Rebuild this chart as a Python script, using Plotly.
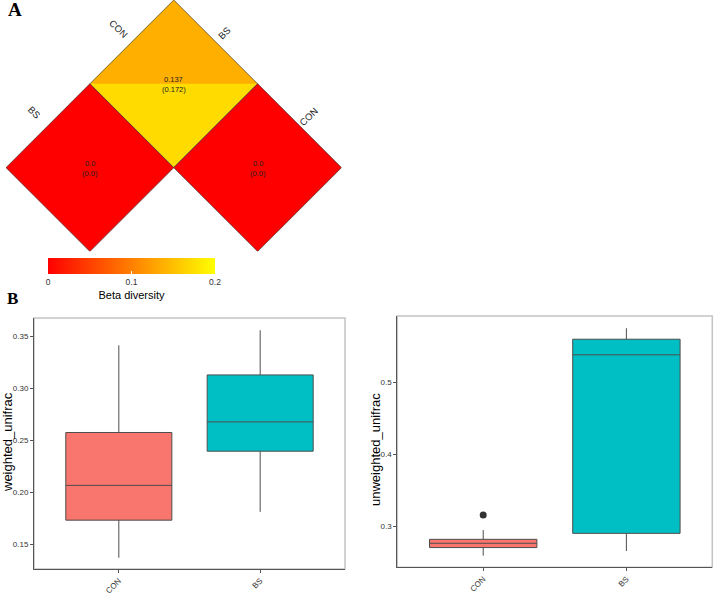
import plotly.graph_objects as go
from plotly.colors import sample_colorscale

# ---------------- data ----------------
row_groups = ["CON", "BS"]
col_groups = ["BS", "CON"]
beta_upper = [[0.137, 0.0], [0.0, None]]   # upper triangle values
beta_lower = [[0.172, 0.0], [0.0, None]]   # lower triangle values (in brackets)
cbar_ticks = [0, 0.1, 0.2]
cbar_ticktext = ["0", "0.1", "0.2"]

box_groups = ["CON", "BS"]
w_lo = [0.1368, 0.181]
w_q1 = [0.173, 0.2394]
w_med = [0.2065, 0.2676]
w_q3 = [0.2574, 0.3128]
w_hi = [0.3413, 0.3558]

u_lo = [0.2588, 0.2653]
u_q1 = [0.270, 0.2898]
u_med = [0.276, 0.538]
u_q3 = [0.2815, 0.5597]
u_hi = [0.2944, 0.575]
u_out_x = ["CON"]
u_out_y = [0.3153]

w_ticks = [0.15, 0.20, 0.25, 0.30, 0.35]
w_ticktext = ["0.15", "0.20", "0.25", "0.30", "0.35"]
u_ticks = [0.3, 0.4, 0.5]
u_ticktext = ["0.3", "0.4", "0.5"]

box_colors = ["#F8766D", "#00BFC4"]
cscale = [[0, "rgb(255,0,0)"], [1, "rgb(255,255,0)"]]
cmax = 0.2

W, H = 718, 599
def px(x):
    return x / W
def py(y):
    return 1 - y / H

FONT = "Liberation Sans"
fig = go.Figure()

# ---------------- heatmap (rotated) ----------------
def col_of(v):
    return sample_colorscale(cscale, [v / cmax])[0]

def fmt(v):
    return "0.0" if v == 0 else f"{v:.3g}"

annotations = []
for r in range(len(row_groups)):
    for c in range(len(col_groups)):
        up = beta_upper[r][c]
        lo = beta_lower[r][c]
        if up is None:
            continue
        cx = c - r
        cy = r + c + 1
        fig.add_trace(go.Scatter(x=[cx, cx + 1, cx, cx - 1, cx], y=[cy - 1, cy, cy + 1, cy, cy - 1],
                                 fill="toself", fillcolor=col_of(lo), mode="lines",
                                 line=dict(width=0, color=col_of(lo)),
                                 xaxis="x3", yaxis="y3", showlegend=False, hoverinfo="skip"))
        fig.add_trace(go.Scatter(x=[cx - 1, cx, cx + 1, cx - 1], y=[cy, cy - 1, cy, cy],
                                 fill="toself", fillcolor=col_of(up), mode="lines",
                                 line=dict(width=0, color=col_of(up)),
                                 xaxis="x3", yaxis="y3", showlegend=False, hoverinfo="skip"))
        fig.add_trace(go.Scatter(x=[cx, cx + 1, cx, cx - 1, cx], y=[cy - 1, cy, cy + 1, cy, cy - 1],
                                 mode="lines", line=dict(width=0.7, color="#444444"),
                                 xaxis="x3", yaxis="y3", showlegend=False, hoverinfo="skip"))
        annotations.append(dict(x=cx, y=cy, xref="x3", yref="y3", text=fmt(up),
                                showarrow=False, yshift=4.5, xanchor="center", yanchor="middle",
                                font=dict(size=7.5, color="#222222", family=FONT)))
        annotations.append(dict(x=cx, y=cy, xref="x3", yref="y3", text=f"({fmt(lo)})",
                                showarrow=False, yshift=-5.5, xanchor="center", yanchor="middle",
                                font=dict(size=7.5, color="#222222", family=FONT)))

off_l, off_r = 0.16, 0.11
for r, g in enumerate(row_groups):
    cx, cy = -r, r + 1
    annotations.append(dict(x=cx - 0.5 - off_l, y=cy - 0.5 - off_l, xref="x3", yref="y3", text=g,
                            textangle=45, showarrow=False, xanchor="center", yanchor="middle",
                            font=dict(size=9.5, color="#222222", family=FONT)))
for c, g in enumerate(col_groups):
    cx, cy = c, c + 1
    annotations.append(dict(x=cx + 0.5 + off_r, y=cy - 0.5 - off_r, xref="x3", yref="y3", text=g,
                            textangle=-45, showarrow=False, xanchor="center", yanchor="middle",
                            font=dict(size=9.5, color="#222222", family=FONT)))

# colorbar carrier
fig.add_trace(go.Scatter(x=[0], y=[0], mode="markers", xaxis="x3", yaxis="y3",
                         marker=dict(size=0.1, opacity=0, color=[0], cmin=0, cmax=cmax,
                                     colorscale=cscale, showscale=True,
                                     colorbar=dict(orientation="h", x=px(131.5), xanchor="center",
                                                   y=py(257.5), yanchor="top",
                                                   len=167, lenmode="pixels", thickness=16,
                                                   xpad=0, ypad=0, outlinewidth=0,
                                                   tickvals=cbar_ticks, ticktext=cbar_ticktext,
                                                   ticks="inside", ticklen=3, tickcolor="white",
                                                   tickfont=dict(size=8.5, color="#333333", family=FONT),
                                                   title=dict(text="Beta diversity", side="bottom",
                                                              font=dict(size=11, color="black",
                                                                        family=FONT)))),
                         showlegend=False, hoverinfo="skip"))

# ---------------- box plots ----------------
for i, g in enumerate(box_groups):
    fig.add_trace(go.Box(x=[g], q1=[w_q1[i]], median=[w_med[i]], q3=[w_q3[i]],
                         lowerfence=[w_lo[i]], upperfence=[w_hi[i]],
                         fillcolor=box_colors[i], line=dict(color="#4d4d4d", width=1),
                         width=0.75, whiskerwidth=0, xaxis="x", yaxis="y",
                         showlegend=False, boxpoints=False))
    fig.add_trace(go.Box(x=[g], q1=[u_q1[i]], median=[u_med[i]], q3=[u_q3[i]],
                         lowerfence=[u_lo[i]], upperfence=[u_hi[i]],
                         fillcolor=box_colors[i], line=dict(color="#4d4d4d", width=1),
                         width=0.75, whiskerwidth=0, xaxis="x2", yaxis="y2",
                         showlegend=False, boxpoints=False))
fig.add_trace(go.Scatter(x=u_out_x, y=u_out_y, mode="markers",
                         marker=dict(size=7, color="#333333"), xaxis="x2", yaxis="y2",
                         showlegend=False))

axis_common = dict(showgrid=False, zeroline=False, showline=True, linecolor="#555555",
                   linewidth=1, ticks="outside", ticklen=3, tickcolor="#555555",
                   automargin=False,
                   tickfont=dict(size=8, color="#333333", family=FONT))
xcat = dict(type="category", categoryorder="array", categoryarray=box_groups,
            range=[-0.6, 1.6], tickangle=-45)

shapes = []
for (x0, x1, y0, y1) in [(34, 345, 318, 569), (397.3, 712.3, 316, 567.3)]:
    shapes.append(dict(type="rect", xref="paper", yref="paper", x0=px(x0), x1=px(x1),
                       y0=py(y1), y1=py(y0), line=dict(color="#c4c4c4", width=1.5),
                       layer="below"))

annotations.append(dict(x=px(7.5), y=py(442.5), xref="paper", yref="paper", text="weighted_unifrac",
                        textangle=-90, showarrow=False, xanchor="center", yanchor="middle",
                        font=dict(size=13, color="black", family=FONT)))
annotations.append(dict(x=px(375), y=py(450), xref="paper", yref="paper", text="unweighted_unifrac",
                        textangle=-90, showarrow=False, xanchor="center", yanchor="middle",
                        font=dict(size=13, color="black", family=FONT)))
annotations.append(dict(x=px(14.5), y=py(9), xref="paper", yref="paper", text="<b>A</b>",
                        showarrow=False, xanchor="center", yanchor="middle",
                        font=dict(size=19, family="Liberation Serif", color="black")))
annotations.append(dict(x=px(12), y=py(298), xref="paper", yref="paper", text="<b>B</b>",
                        showarrow=False, xanchor="center", yanchor="middle",
                        font=dict(size=17, family="Liberation Serif", color="black")))

fig.update_layout(
    width=W, height=H, margin=dict(l=0, r=0, t=0, b=0, autoexpand=False),
    paper_bgcolor="white", plot_bgcolor="white",
    font=dict(family=FONT),
    xaxis=dict(domain=[px(34), px(345)], anchor="y", **axis_common, **xcat),
    yaxis=dict(domain=[py(569), py(318)], anchor="x", range=[0.126, 0.3676],
               tickvals=w_ticks, ticktext=w_ticktext, **axis_common),
    xaxis2=dict(domain=[px(397.3), px(712.3)], anchor="y2", **axis_common, **xcat),
    yaxis2=dict(domain=[py(567.3), py(316)], anchor="x2", range=[0.2426, 0.592],
                tickvals=u_ticks, ticktext=u_ticktext, **axis_common),
    xaxis3=dict(domain=[px(6), px(341.5)], anchor="y3", range=[-2, 2], visible=False,
                fixedrange=True),
    yaxis3=dict(domain=[py(251.5), 1], anchor="x3", range=[3, 0], visible=False,
                fixedrange=True),
    annotations=annotations, shapes=shapes,
)

fig.write_html("out.html", config={"displayModeBar": False},
               post_script="document.body.style.margin='0px';document.body.style.overflow='hidden';")
